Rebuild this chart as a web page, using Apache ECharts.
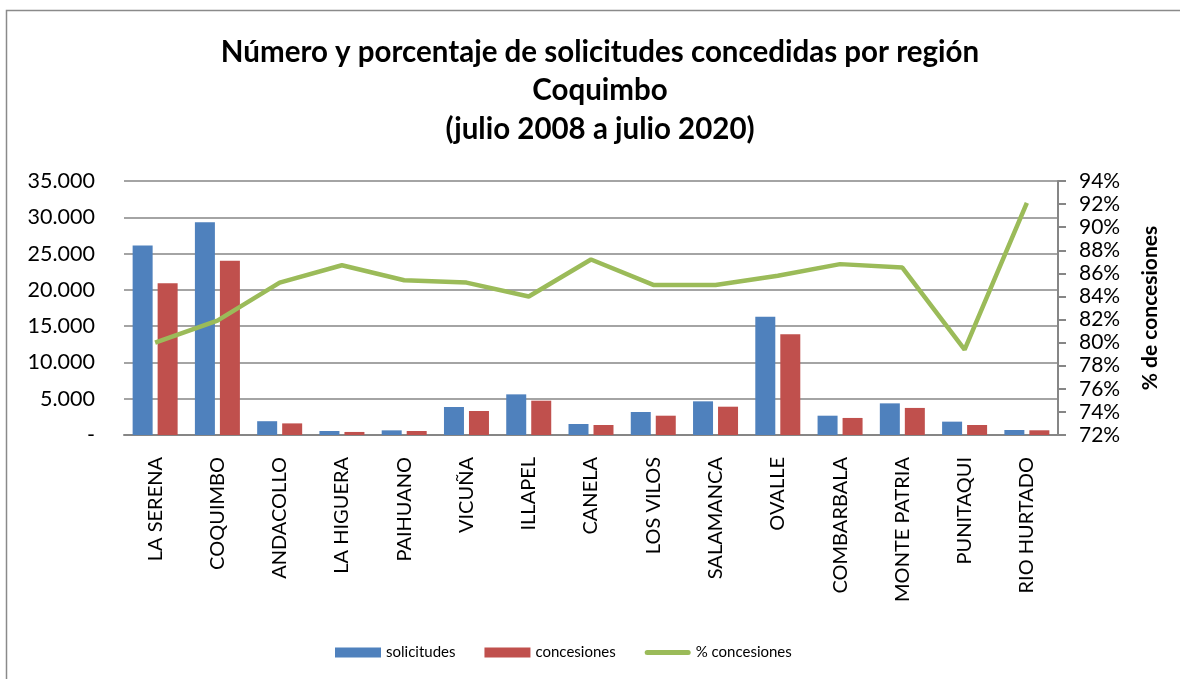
<!DOCTYPE html>
<html lang="es">
<head>
    <meta charset="UTF-8">
    <title>Solicitudes concedidas por región Coquimbo</title>
    <script src="https://cdn.jsdelivr.net/npm/echarts@6/dist/echarts.min.js"></script>
</head>
<body style="margin:0">

<div id="main" style="width:1180px;height:679px"></div>

<script type="text/javascript">
    // comunas de la región
    var comunas = ['LA SERENA', 'COQUIMBO', 'ANDACOLLO', 'LA HIGUERA', 'PAIHUANO', 'VICUÑA', 'ILLAPEL',
        'CANELA', 'LOS VILOS', 'SALAMANCA', 'OVALLE', 'COMBARBALA', 'MONTE PATRIA', 'PUNITAQUI', 'RIO HURTADO'];

    var solicitudes = [26100, 29300, 1900, 550, 640, 3860, 5600, 1520, 3170, 4640, 16300, 2660, 4360, 1840, 690];
    var concesiones = [20900, 24000, 1600, 420, 550, 3310, 4730, 1380, 2660, 3900, 13900, 2350, 3730, 1380, 650];
    var pctConcesiones = [80.0, 81.9, 85.2, 86.7, 85.4, 85.2, 84.0, 87.2, 85.0, 85.0, 85.8, 86.8, 86.5, 79.4, 92.1];

    var fuente = 'Lato, "Noto Sans", sans-serif';

    function miles(v) {
        if (v === 0) return '-';
        return String(v).replace(/\B(?=(\d{3})+(?!\d))/g, '.');
    }

    var myChart = echarts.init(document.getElementById('main'));

    var option = {
        backgroundColor: '#fff',
        textStyle: {fontFamily: fuente},
        title: {
            text: 'Número y porcentaje de solicitudes concedidas por región\nCoquimbo\n(julio 2008 a julio 2020)',
            left: 595,
            textAlign: 'center',
            top: 28,
            textStyle: {
                fontFamily: fuente,
                fontSize: 29.5,
                fontWeight: 'bold',
                lineHeight: 38.5,
                color: '#000'
            }
        },
        graphic: [{
            type: 'rect',
            shape: {x: 6.5, y: 10.5, width: 1300, height: 800},
            style: {fill: 'none', stroke: '#8a8a8a', lineWidth: 1.5},
            silent: true
        }],
        legend: {
            left: 330,
            top: 640,
            itemWidth: 46,
            itemHeight: 10,
            itemGap: 29,
            textStyle: {fontFamily: fuente, fontSize: 15, color: '#000'},
            data: [
                {name: 'solicitudes', icon: 'rect'},
                {name: 'concesiones', icon: 'rect'},
                {name: '% concesiones', icon: 'path://M2.5,0 L43.5,0 A2.5,2.5 0 0 1 43.5,5 L2.5,5 A2.5,2.5 0 0 1 2.5,0 Z'}
            ]
        },
        grid: {
            left: 124,
            right: 122,
            top: 181,
            bottom: 244
        },
        xAxis: {
            type: 'category',
            data: comunas,
            axisLine: {lineStyle: {color: '#868686', width: 2}},
            axisTick: {show: false},
            axisLabel: {
                rotate: 90,
                margin: 22,
                interval: 0,
                fontFamily: fuente,
                fontSize: 20,
                color: '#000'
            }
        },
        yAxis: [{
            type: 'value',
            min: 0,
            max: 35000,
            interval: 5000,
            axisLine: {show: false},
            axisTick: {show: false},
            axisLabel: {
                margin: 29,
                fontFamily: fuente,
                fontSize: 21.5,
                color: '#000',
                formatter: miles
            },
            splitLine: {lineStyle: {color: '#868686', width: 1.5}}
        }, {
            type: 'value',
            position: 'right',
            min: 72,
            max: 94,
            interval: 2,
            name: '% de concesiones',
            nameLocation: 'middle',
            nameRotate: 90,
            nameGap: 82,
            nameTextStyle: {fontFamily: fuente, fontSize: 21, fontWeight: 'bold', color: '#000'},
            axisLine: {show: true, lineStyle: {color: '#868686', width: 2}},
            axisTick: {show: true, length: 8, lineStyle: {color: '#868686', width: 2}},
            axisLabel: {
                margin: 21,
                fontFamily: fuente,
                fontSize: 21,
                color: '#000',
                formatter: '{value}%'
            },
            splitLine: {show: false}
        }],
        series: [{
            name: 'solicitudes',
            type: 'bar',
            data: solicitudes,
            barWidth: 20,
            barGap: '25%',
            itemStyle: {color: '#4f81bd'}
        }, {
            name: 'concesiones',
            type: 'bar',
            data: concesiones,
            barWidth: 20,
            itemStyle: {color: '#c0504d'}
        }, {
            name: '% concesiones',
            type: 'line',
            yAxisIndex: 1,
            data: pctConcesiones,
            symbol: 'none',
            itemStyle: {color: '#9bbb59'},
            lineStyle: {color: '#9bbb59', width: 4.5}
        }]
    };

    myChart.setOption(option);
</script>
</body>
</html>
